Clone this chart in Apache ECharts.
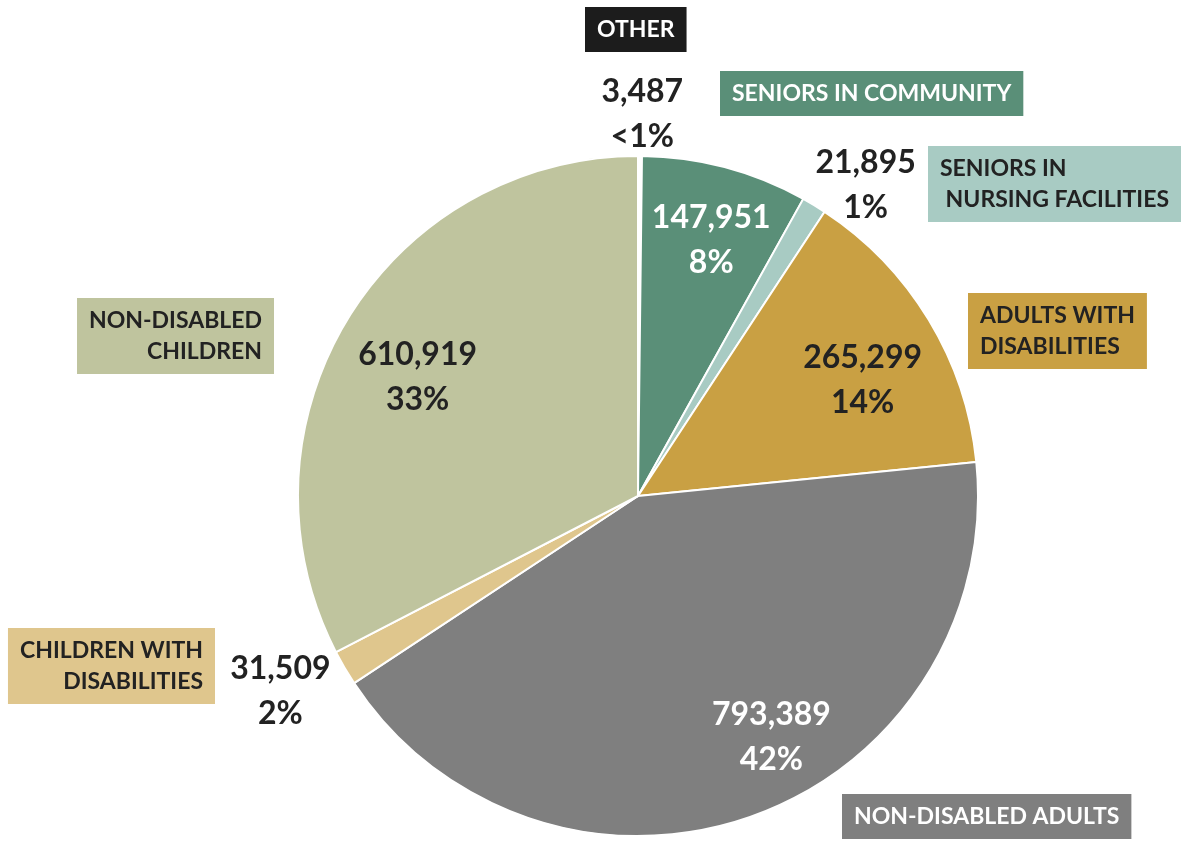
<!DOCTYPE html>
<html>
<head>
<meta charset="utf-8">
<script src="https://cdn.jsdelivr.net/npm/echarts@6/dist/echarts.min.js"></script>
<style>
  html, body { margin: 0; background: #fff; }
  #chart { width: 1182px; height: 843px; }
</style>
</head>
<body>
<div id="chart"></div>
<script>
// enrollment by eligibility group, clockwise from the top
const categories = ['OTHER', 'SENIORS IN COMMUNITY', 'SENIORS IN\n NURSING FACILITIES', 'ADULTS WITH\nDISABILITIES', 'NON-DISABLED ADULTS', 'CHILDREN WITH\nDISABILITIES', 'NON-DISABLED\nCHILDREN']
const enrollees = [3487, 147951, 21895, 265299, 793389, 31509, 610919]

const sliceColors = ['#1c1c1c', '#5a8f78', '#a8cbc3', '#c9a043', '#7f7f7f', '#dfc68d', '#bfc49e']
const textColors = ['#fff', '#fff', '#222', '#222', '#fff', '#222', '#222']
const valueColors = ['#222', '#fff', '#222', '#222', '#fff', '#222', '#222']

const FONT = 'Lato, "Open Sans", sans-serif'
const total = enrollees.reduce((a, b) => a + b, 0)
const isSmall = (v) => v / total < 0.02
const isTiny = (v) => v / total < 0.005

const fmtValue = (p) => {
  const pct = p.value / total * 100
  const pctText = pct < 0.5 ? '<1%' : Math.round(pct) + '%'
  return p.value.toLocaleString('en-US') + '\n' + pctText
}

const CENTER = [638, 496]
const R = 340

// small nudges so value labels sit where the original put them
const labelNudge = [
  { dx: 2, dy: 4 },
  { dx: 7, dy: -6 },
  { dx: 28, dy: 19 },
  { dx: 4, dy: 18 },
  { dx: 47, dy: -2 },
  { dx: -25, dy: 0 },
  { dx: 0, dy: 15 },
]

const labelSeries = (radius, small) => ({
  type: 'pie',
  center: CENTER,
  radius,
  startAngle: 90,
  silent: true,
  itemStyle: { color: 'rgba(0,0,0,0)', borderWidth: 0 },
  labelLine: { show: false },
  labelLayout: (p) => labelNudge[p.dataIndex],
  data: enrollees.map((v, i) => ({
    name: categories[i],
    value: v,
    label: {
      show: isSmall(v) === small,
      position: 'inside',
      formatter: fmtValue,
      color: valueColors[i],
      fontFamily: FONT,
      fontWeight: 'bold',
      fontSize: 32,
      lineHeight: 45,
    },
  })),
})

// category tags around the pie: [x, y, align]
const tagPlace = [
  [585, 7, 'left'],
  [720, 71, 'left'],
  [928, 146, 'left'],
  [968, 293, 'left'],
  [842, 794, 'left'],
  [215, 628, 'right'],
  [274, 298, 'right'],
]

const chart = echarts.init(document.getElementById('chart'))
chart.setOption({
  animation: false,
  series: [
    {
      type: 'pie',
      center: CENTER,
      radius: R,
      startAngle: 90,
      silent: true,
      label: { show: false },
      labelLine: { show: false },
      itemStyle: { borderColor: '#fff', borderWidth: 2 },
      data: enrollees.map((v, i) => ({
        name: categories[i],
        value: v,
        // the sliver for "other" is swallowed by the white dividers in the original
        itemStyle: { color: sliceColors[i], borderWidth: isTiny(v) ? 4 : 2 },
      })),
    },
    labelSeries([R / 2, R], false),
    labelSeries([R, R * 1.25], true),
  ],
  graphic: categories.map((name, i) => ({
    type: 'text',
    x: tagPlace[i][0],
    y: tagPlace[i][1],
    silent: true,
    style: {
      text: name,
      fill: textColors[i],
      backgroundColor: sliceColors[i],
      font: 'bold 23px ' + FONT,
      lineHeight: 31,
      padding: [7, 12, 7, 12],
      align: tagPlace[i][2],
      verticalAlign: 'top',
    },
  })),
})
</script>
</body>
</html>
